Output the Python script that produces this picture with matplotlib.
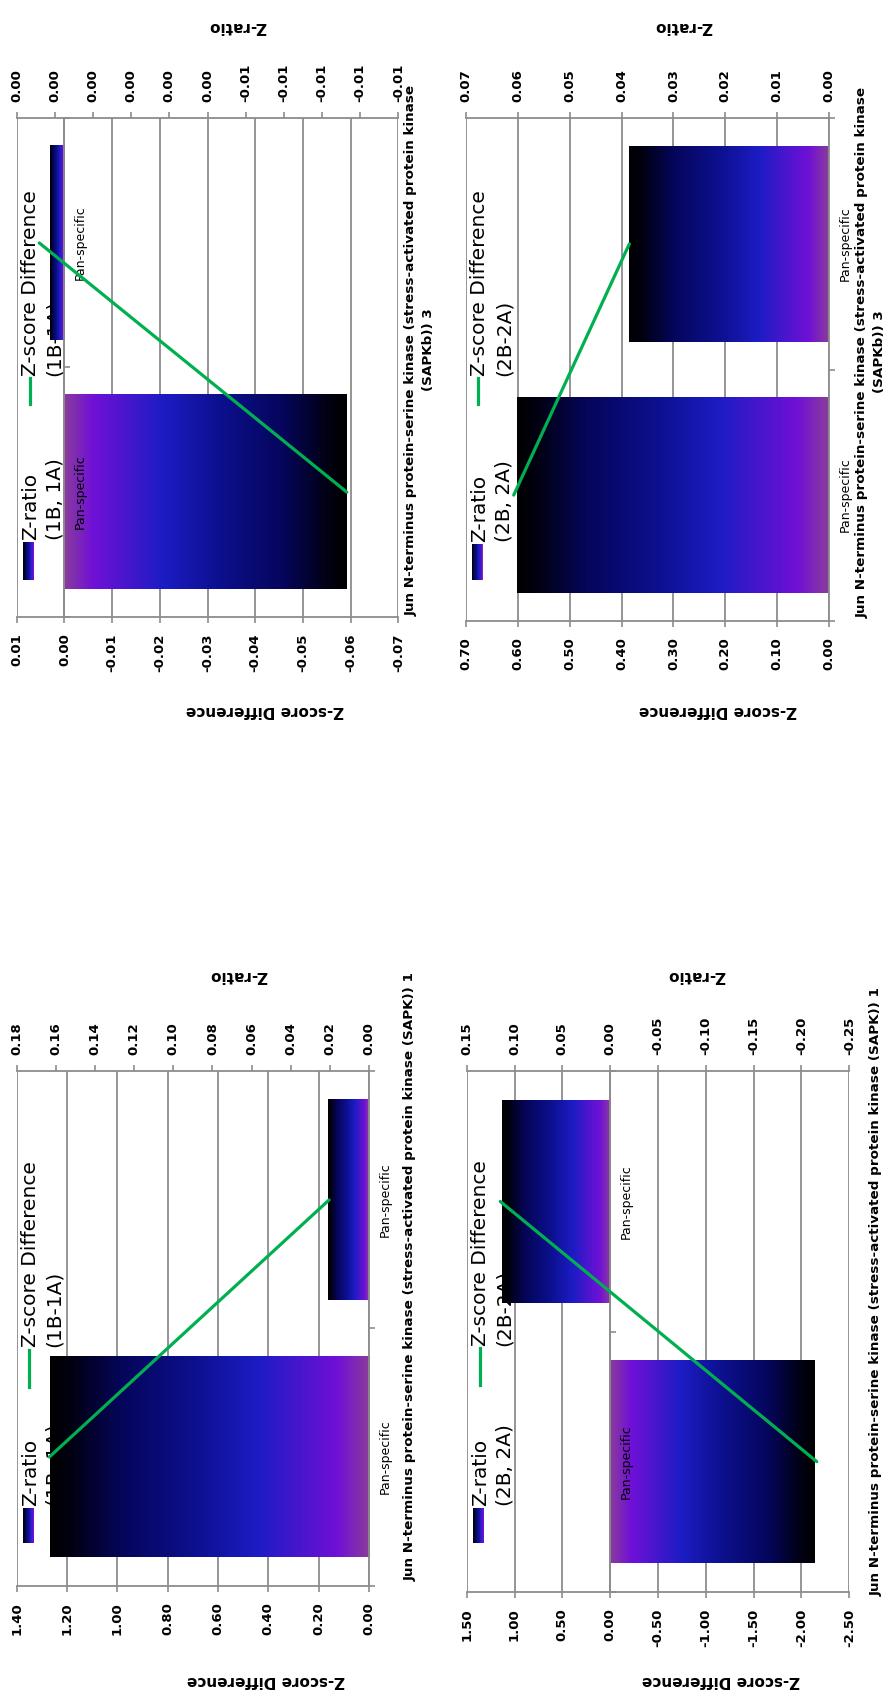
import numpy as np
import matplotlib
matplotlib.use("Agg")
import matplotlib.pyplot as plt
from matplotlib.colors import LinearSegmentedColormap
from matplotlib.patches import Rectangle
from matplotlib.lines import Line2D

plt.rcParams["font.family"] = ["DejaVu Sans"]

W, H = 892, 1691

categories = ["Pan-specific", "Pan-specific"]
protein_sapk1 = "Jun N-terminus protein-serine kinase (stress-activated protein kinase (SAPK)) 1"
protein_sapkb3 = "Jun N-terminus protein-serine kinase (stress-activated protein kinase\n(SAPKb)) 3"
names_1 = ["Z-ratio\n(1B, 1A)", "Z-score Difference\n(1B-1A)"]
names_2 = ["Z-ratio\n(2B, 2A)", "Z-score Difference\n(2B-2A)"]

# bars are read on the bottom axis, the green line on the top axis
bars_sapk1_1 = [1.268, 0.162]
line_sapk1_1 = [0.1633, 0.0204]
bars_sapk1_2 = [-2.142, 1.132]
line_sapk1_2 = [-0.216, 0.1149]
bars_sapkb3_1 = [-0.0592, 0.0030]
line_sapkb3_1 = [-0.00765, 0.00041]
bars_sapkb3_2 = [0.601, 0.385]
line_sapkb3_2 = [0.0608, 0.0385]

bottom_ticks_p1 = [0.0, 0.2, 0.4, 0.6, 0.8, 1.0, 1.2, 1.4]
top_ticks_p1 = [0.0, 0.02, 0.04, 0.06, 0.08, 0.10, 0.12, 0.14, 0.16, 0.18]
bottom_ticks_p2 = [-2.5, -2.0, -1.5, -1.0, -0.5, 0.0, 0.5, 1.0, 1.5]
top_ticks_p2 = [-0.25, -0.20, -0.15, -0.10, -0.05, 0.0, 0.05, 0.10, 0.15]
bottom_ticks_p3 = [-0.07, -0.06, -0.05, -0.04, -0.03, -0.02, -0.01, 0.0, 0.01]
top_ticks_p3 = [-0.009, -0.008, -0.007, -0.006, -0.005, -0.004, -0.003, -0.002, -0.001, 0.0, 0.001]
top_labels_p3 = ["-0.01", "-0.01", "-0.01", "-0.01", "-0.01", "0.00", "0.00", "0.00", "0.00", "0.00", "0.00"]
bottom_ticks_p4 = [0.0, 0.1, 0.2, 0.3, 0.4, 0.5, 0.6, 0.7]
top_ticks_p4 = [0.0, 0.01, 0.02, 0.03, 0.04, 0.05, 0.06, 0.07]

GRID = "#8c8c8c"
GREEN = "#00b050"
bar_cmap = LinearSegmentedColormap.from_list("excel_fill", [
    (0.0, "#8a3c9c"), (0.1, "#7010d6"), (0.35, "#1c1cc4"), (0.55, "#0c108e"),
    (0.78, "#05055a"), (0.93, "#010114"), (1.0, "#000000")])
grad = np.linspace(0, 1, 256).reshape(1, -1)

fig = plt.figure(figsize=(W / 100, H / 100), dpi=100)


def fx(x):
    return x / W


def fy(y):
    return 1 - y / H


def fmt(ticks):
    return ["%.2f" % t for t in ticks]


def draw_legend(ax, names, sw, t1, mk, t2):
    """ Excel style legend, turned on its side, kept under the bars """
    x0, x1, y0, y1 = sw
    n = 14
    for i in range(n):
        r = Rectangle((fx(x0 + (x1 - x0) * i / n), fy(y1)), (x1 - x0) / n / W + 0.0002, (y1 - y0) / H,
                      transform=fig.transFigure, color=bar_cmap(1 - (i + 0.5) / n), lw=0, zorder=1)
        r.set_clip_on(False)
        ax.add_artist(r)
    ax.text(fx(t1[0]), fy(t1[1]), names[0], rotation=90, ha="left", va="bottom", multialignment="left",
            fontsize=14.5, linespacing=1.35, transform=fig.transFigure, zorder=1)
    ln = Line2D([fx(mk[0]), fx(mk[0])], [fy(mk[1]), fy(mk[2])], transform=fig.transFigure,
                color=GREEN, lw=2.3, zorder=1)
    ln.set_clip_on(False)
    ax.add_artist(ln)
    ax.text(fx(t2[0]), fy(t2[1]), names[1], rotation=90, ha="left", va="bottom", multialignment="left",
            fontsize=14.5, linespacing=1.35, transform=fig.transFigure, zorder=1)


def panel(box, bars, line, bticks, tticks, tlabels):
    left, right, top, bottom = box
    ax = fig.add_axes([left / W, 1 - bottom / H, (right - left) / W, (bottom - top) / H])
    ypos = np.arange(len(categories))
    rects = ax.barh(ypos, bars, height=0.78, color="none", edgecolor="none", zorder=2)
    for r in rects:
        x0, w = r.get_x(), r.get_width()
        y0, h = r.get_y(), r.get_height()
        ax.imshow(grad, cmap=bar_cmap, extent=(x0, x0 + w, y0, y0 + h), aspect="auto",
                  interpolation="bilinear", zorder=2)
    ax.set_xlim(bticks[-1], bticks[0])
    ax.set_ylim(-0.5, len(categories) - 0.5)

    ax.set_xticks(bticks)
    ax.set_xticklabels(fmt(bticks), fontweight="bold")
    ax.tick_params(axis="x", direction="out", length=4, width=1.2, color=GRID,
                   labelsize=9.5, pad=8, labelrotation=90)
    ax.grid(axis="x", color=GRID, lw=1.3)
    ax.set_axisbelow(True)

    # category axis sits at value 0, its labels stay on top of the bars
    ax.yaxis.set_zorder(2.5)
    ax.yaxis.set_ticks_position("right")
    ax.spines["right"].set_position(("data", 0))
    ax.set_yticks(ypos)
    ax.set_yticklabels(categories, rotation=90, va="center", fontsize=9)
    ax.set_yticks([-0.5, 0.5, 1.5], minor=True)
    ax.tick_params(axis="y", which="major", length=0, pad=7)
    ax.tick_params(axis="y", which="minor", length=4, width=1.2, color=GRID, direction="out")
    ax.spines["left"].set_visible(False)
    for s in ["top", "bottom", "right"]:
        ax.spines[s].set_color(GRID)
        ax.spines[s].set_linewidth(1.3)

    ax2 = ax.twiny()
    ax2.plot(line, ypos, color=GREEN, lw=2.3, solid_capstyle="round")
    ax2.set_xlim(tticks[-1], tticks[0])
    ax2.set_xticks(tticks)
    ax2.set_xticklabels(tlabels, fontweight="bold")
    ax2.tick_params(axis="x", direction="out", length=4, width=1.2, color=GRID,
                    labelsize=9.5, pad=8, labelrotation=90)
    for s in ax2.spines.values():
        s.set_visible(False)
    return ax


# bottom left: 1B vs 1A, SAPK 1
ax1 = panel((16.7, 369.0, 1071.4, 1585.5), bars_sapk1_1, line_sapk1_1,
            bottom_ticks_p1, top_ticks_p1, fmt(top_ticks_p1))
draw_legend(ax1, names_1, (23.3, 34.3, 1508, 1543), (21, 1506), (29.3, 1350, 1387), (21, 1347))

# bottom right: 2B vs 2A, SAPK 1
ax2 = panel((466.7, 849.3, 1071.4, 1591.7), bars_sapk1_2, line_sapk1_2,
            bottom_ticks_p2, top_ticks_p2, fmt(top_ticks_p2))
draw_legend(ax2, names_2, (473.3, 484.3, 1508, 1543), (471, 1506), (479.5, 1348, 1385), (471, 1346))

# top left: 1B vs 1A, SAPKb 3
ax3 = panel((16.7, 398.3, 118.3, 616.7), bars_sapkb3_1, line_sapkb3_1,
            bottom_ticks_p3, top_ticks_p3, top_labels_p3)
draw_legend(ax3, names_1, (23.3, 34.3, 542, 580), (21, 540), (30, 378, 404), (21, 376))

# top right: 2B vs 2A, SAPKb 3
ax4 = panel((466.0, 829.0, 118.3, 620.7), bars_sapkb3_2, line_sapkb3_2,
            bottom_ticks_p4, top_ticks_p4, fmt(top_ticks_p4))
draw_legend(ax4, names_2, (471.7, 483.3, 544, 580), (470, 542), (478, 378, 404), (470, 376))

# axis titles
for x, y in [(238, 975), (696, 975), (237, 27), (683, 27)]:
    fig.text(fx(x), fy(y), "Z-ratio", rotation=180, ha="center", va="center", fontsize=11, fontweight="bold")
for x, y in [(266, 1680), (721, 1680), (265, 710), (718, 710)]:
    fig.text(fx(x), fy(y), "Z-score Difference", rotation=180, ha="center", va="center",
             fontsize=11, fontweight="bold")
for x, y, s in [(410, 1277, protein_sapk1), (876.5, 1292, protein_sapk1),
                (420, 350, protein_sapkb3), (871, 352, protein_sapkb3)]:
    fig.text(fx(x), fy(y), s, rotation=90, ha="center", va="center", multialignment="center",
             fontsize=9.7, fontweight="bold", linespacing=1.4)

fig.savefig("out.png", dpi=100)
